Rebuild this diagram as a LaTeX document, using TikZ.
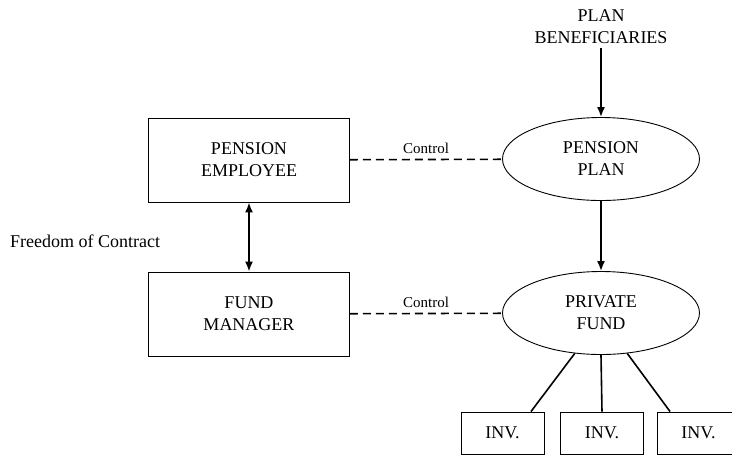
\documentclass[tikz,border=0pt]{standalone}
\usepackage{fontspec}
\setmainfont{Liberation Serif}
\usepackage{tikz}
\usetikzlibrary{arrows.meta,shapes.geometric}
\tikzstyle{party}=[draw,line width=0.9pt,minimum width=201pt,minimum height=84pt,inner sep=0pt,align=center,font=\fontsize{18}{22}\selectfont]
\tikzstyle{plan}=[draw,ellipse,line width=0.9pt,minimum width=197pt,minimum height=83pt,inner sep=0pt,align=center,font=\fontsize{18}{22}\selectfont]
\tikzstyle{inv}=[draw,line width=0.9pt,minimum width=83pt,minimum height=42pt,inner sep=0pt,font=\fontsize{18}{22}\selectfont]
\tikzstyle{line} = [draw, line width=1.6pt, -{Latex[length=10pt,width=8pt]}]
\tikzstyle{both} = [draw, line width=1.6pt, {Latex[length=10pt,width=8pt]}-{Latex[length=10pt,width=8pt]}]
\tikzstyle{control} = [draw, line width=1.6pt, dash pattern=on 8pt off 5pt]

\begin{document}
\begin{tikzpicture}[x=1pt,y=-1pt]
  \useasboundingbox (0,0) rectangle (732,456);
  \node[align=center,font=\fontsize{18}{22}\selectfont] (benef) at (601,27) {PLAN\\BENEFICIARIES};
  \node[party] (employee) at (249,160) {PENSION\\EMPLOYEE};
  \node[party] (manager)  at (249,314) {FUND\\MANAGER};
  \node[plan] (penplan) at (601,159) {PENSION\\PLAN};
  \node[plan] (fund)    at (601,313) {PRIVATE\\FUND};
  \node[inv] (inv1) at (502.5,433) {INV.};
  \node[inv] (inv2) at (602,433)   {INV.};
  \node[inv] (inv3) at (698.5,433) {INV.};
  \node[anchor=west,inner sep=0pt,font=\fontsize{18}{22}\selectfont] (freedom) at (10,241) {Freedom of Contract};
  % control links
  \path [control] (employee) -- node[above=2pt,font=\fontsize{15}{18}\selectfont] (ctrl1) {Control} (penplan);
  \path [control] (manager) -- node[above=2pt,font=\fontsize{15}{18}\selectfont] (ctrl2) {Control} (fund);
  % arrows
  \path [line] (benef) -- (penplan);
  \path [line] (penplan) -- (fund);
  \path [both] (employee) -- (manager);
  % investments
  \draw[line width=1.6pt] (fund.237) -- (inv1.37);
  \draw[line width=1.6pt] (fund.south) -- (inv2.north);
  \draw[line width=1.6pt] (fund.303) -- (inv3.143);
\end{tikzpicture}
\end{document}
